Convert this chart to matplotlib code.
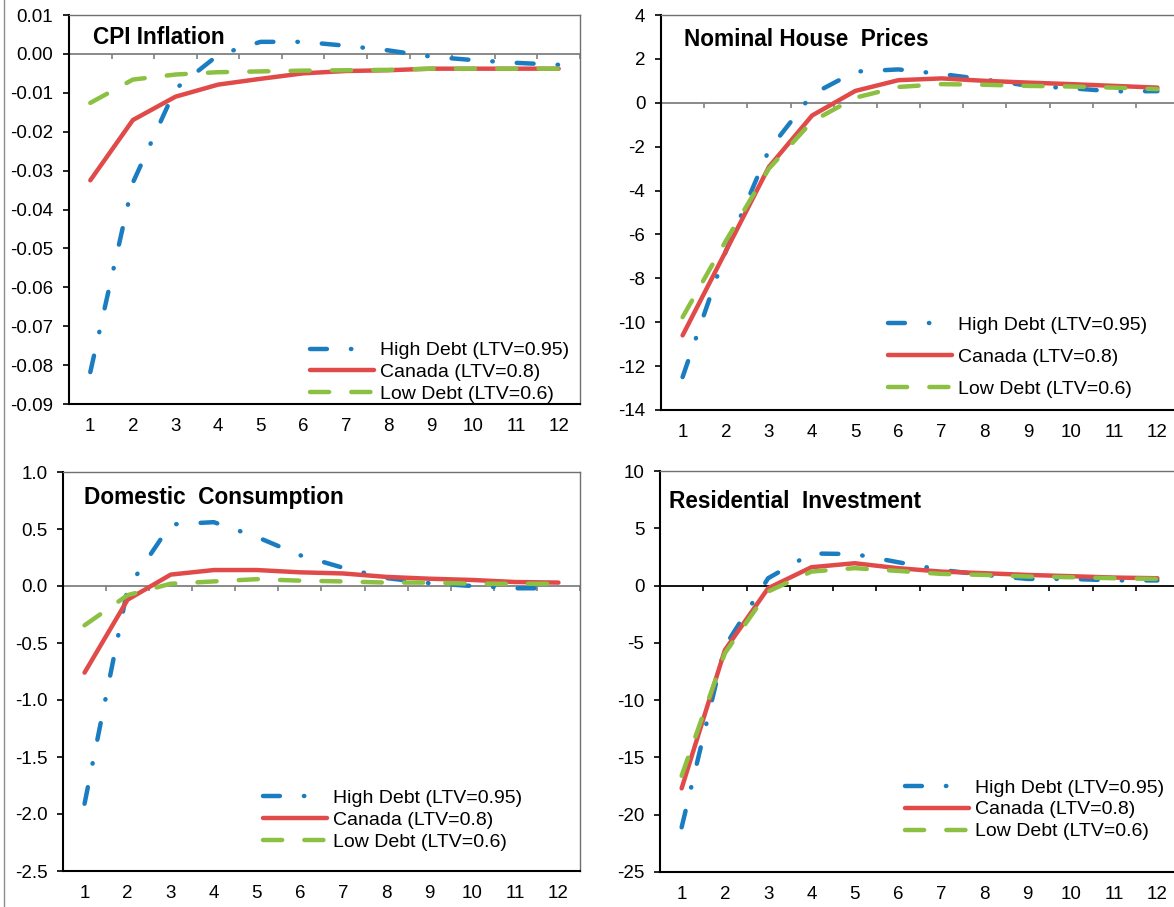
import numpy as np
import matplotlib
matplotlib.use('Agg')
import matplotlib.pyplot as plt
from matplotlib.lines import Line2D
from matplotlib.markers import TICKDOWN
from matplotlib.ticker import FuncFormatter

plt.rcParams['font.family'] = ['Liberation Sans', 'DejaVu Sans']
plt.rcParams['axes.unicode_minus'] = False

periods = np.arange(1, 13)
series_labels = ['High Debt (LTV=0.95)', 'Canada (LTV=0.8)', 'Low Debt (LTV=0.6)']

cpi_high = [-0.0818, -0.0331, -0.0090, -0.0003, 0.0031, 0.0031, 0.0021, 0.0009, -0.0007, -0.0016, -0.0023, -0.0028]
cpi_canada = [-0.0325, -0.0170, -0.0110, -0.0079, -0.0064, -0.0050, -0.0044, -0.0042, -0.0038, -0.0038, -0.0038, -0.0038]
cpi_low = [-0.0126, -0.0066, -0.0053, -0.0047, -0.0045, -0.0043, -0.0042, -0.0041, -0.0038, -0.0038, -0.0038, -0.0038]

house_high = [-12.5, -6.77, -2.15, 0.38, 1.42, 1.52, 1.31, 1.06, 0.78, 0.66, 0.52, 0.53]
house_canada = [-10.6, -6.77, -2.92, -0.58, 0.54, 1.03, 1.11, 1.0, 0.92, 0.85, 0.77, 0.69]
house_low = [-9.77, -6.3, -3.0, -0.85, 0.23, 0.72, 0.85, 0.82, 0.77, 0.74, 0.69, 0.62]

cons_high = [-1.91, -0.02, 0.54, 0.56, 0.43, 0.27, 0.16, 0.07, 0.025, 0.0, -0.02, -0.02]
cons_canada = [-0.76, -0.12, 0.10, 0.14, 0.14, 0.12, 0.11, 0.08, 0.064, 0.053, 0.035, 0.03]
cons_low = [-0.345, -0.08, 0.02, 0.04, 0.06, 0.047, 0.04, 0.03, 0.03, 0.02, 0.02, 0.02]

resi_high = [-21.1, -5.3, 0.64, 2.8, 2.75, 2.04, 1.37, 0.93, 0.58, 0.58, 0.45, 0.45]
resi_canada = [-17.7, -5.63, -0.23, 1.6, 1.95, 1.52, 1.22, 1.08, 0.93, 0.82, 0.70, 0.64]
resi_low = [-16.6, -5.9, -0.52, 1.22, 1.52, 1.28, 1.02, 0.93, 0.79, 0.73, 0.64, 0.58]

BLUE = '#1a7cc1'
RED = '#e04b4a'
GREEN = '#8cc043'
FS = 13.5
LW = 3.2

W, H = 1174, 907
fig = plt.figure(figsize=(W / 100, H / 100), dpi=100)


def px_axes(left, top, right, bottom):
    return fig.add_axes([left / W, 1 - bottom / H, (right - left) / W, (bottom - top) / H])


def tick_fmt(decimals):
    def f(v, pos):
        v = round(v, decimals)
        if v == 0:
            v = 0.0
        return f'{v:.{decimals}f}'
    return FuncFormatter(f)


def draw_panel(ax, title, high, canada, low, ylim, ystep, decimals, zero_color,
               title_xy, leg_xy, leg_spacing):
    ax.set_xlim(0.5, 12.5)
    ax.set_ylim(*ylim)
    ax.set_yticks(np.arange(ylim[0], ylim[1] + ystep / 2, ystep))
    ax.yaxis.set_major_formatter(tick_fmt(decimals))
    ax.set_xticks(periods)
    ax.tick_params(axis='x', length=0, pad=10, labelsize=FS)
    ax.tick_params(axis='y', direction='out', length=4.3, width=1.2, pad=7, labelsize=FS)

    for side in ['top', 'right']:
        ax.spines[side].set_color('#707070')
        ax.spines[side].set_linewidth(1.0)
    for side in ['left', 'bottom']:
        ax.spines[side].set_color('black')
        ax.spines[side].set_linewidth(1.5)

    # category axis sits on zero, tick marks between categories
    ax.axhline(0, color=zero_color, lw=1.3, zorder=1)
    ax.plot(np.arange(0.5, 13), np.zeros(13), ls='none', marker=TICKDOWN,
            ms=3.5, mew=1.2, color=zero_color, clip_on=False, zorder=1)

    l1, = ax.plot(periods, high, color=BLUE, lw=LW, dashes=(3.8, 5.4, 0.1, 5.4),
                  dash_capstyle='round')
    l2, = ax.plot(periods, canada, color=RED, lw=LW, solid_capstyle='round')
    l3, = ax.plot(periods, low, color=GREEN, lw=LW, dashes=(4.3, 5.0),
                  dash_capstyle='round')

    ax.text(title_xy[0], title_xy[1], title, transform=ax.transAxes,
            fontsize=16.3, fontweight='bold', ha='left', va='center')
    ax.legend([l1, l2, l3], series_labels, loc='upper left', bbox_to_anchor=leg_xy,
              frameon=False, borderpad=0, borderaxespad=0, handlelength=3.3,
              handletextpad=0.3, labelspacing=leg_spacing, fontsize=14)


ax1 = px_axes(69, 15, 580, 404)
draw_panel(ax1, 'CPI Inflation', cpi_high, cpi_canada, cpi_low,
           (-0.09, 0.01), 0.01, 2, '#808080',
           (0.047, 0.943), (0.472, 0.160), 0.22)

ax2 = px_axes(661, 15, 1179, 410)
draw_panel(ax2, 'Nominal House  Prices', house_high, house_canada, house_low,
           (-14, 4), 2, 0, '#808080',
           (0.044, 0.937), (0.438, 0.238), 0.75)

ax3 = px_axes(63, 472, 580, 871)
draw_panel(ax3, 'Domestic  Consumption', cons_high, cons_canada, cons_low,
           (-2.5, 1.0), 0.5, 1, '#808080',
           (0.041, 0.937), (0.387, 0.205), 0.22)

ax4 = px_axes(660, 471, 1179, 872)
draw_panel(ax4, 'Residential  Investment', resi_high, resi_canada, resi_low,
           (-25, 10), 5, 0, 'black',
           (0.017, 0.925), (0.472, 0.232), 0.22)

fig.add_artist(Line2D([4 / W, 4 / W], [0, 1], transform=fig.transFigure,
                      color='#8c8c8c', lw=1.0))

fig.savefig('out.png', dpi=100)
